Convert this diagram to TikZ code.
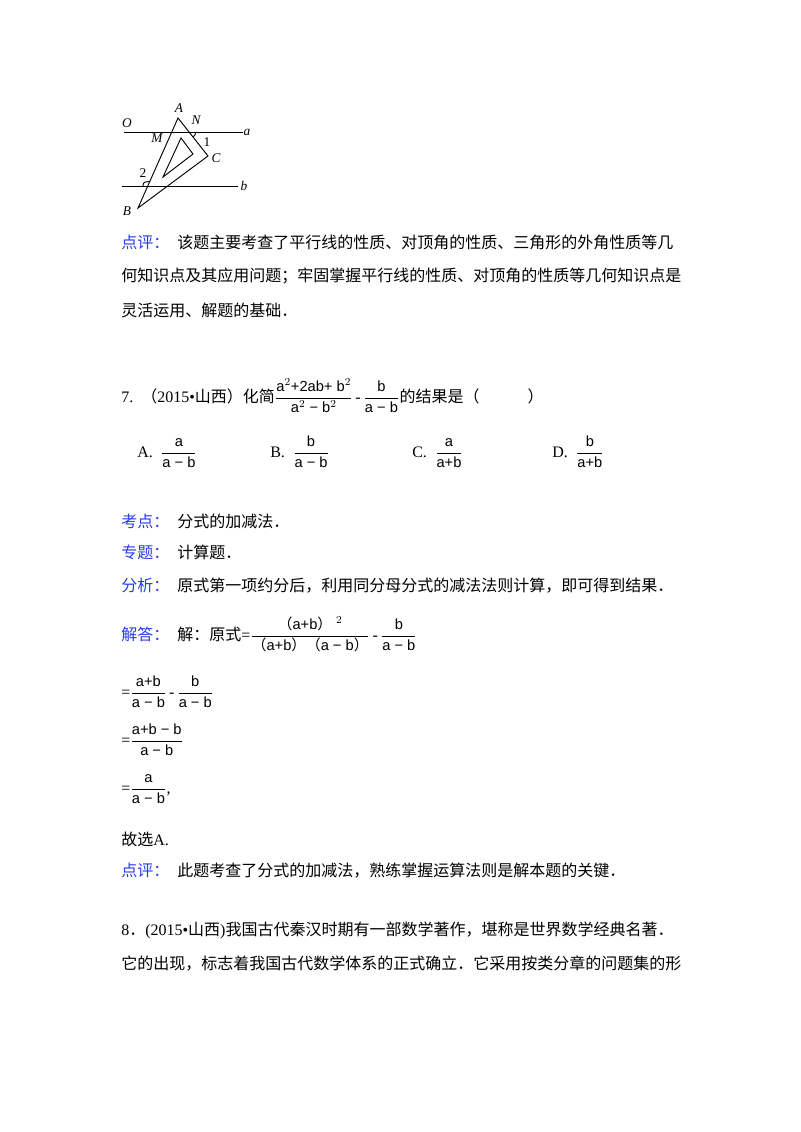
\documentclass[tikz,border=0pt]{standalone}
\usepackage{amsmath}
\usepackage{fontspec}
\setmainfont{Liberation Serif}
\setsansfont{Liberation Sans}
\newfontfamily\cjk{Noto Sans CJK SC}
\definecolor{lblue}{RGB}{40,60,230}
\newcommand{\fr}[2]{$\dfrac{\textsf{\fontsize{11}{13}\selectfont #1}}{\textsf{\fontsize{11}{13}\selectfont #2}}$}
\newcommand{\lp}{{\cjk （}}
\newcommand{\rp}{{\cjk ）}}
\begin{document}
\begin{tikzpicture}[x=0.75pt,y=-0.75pt,
  txt/.style={anchor=base west,inner sep=0pt,font=\fontsize{12}{14}\selectfont},
  lab/.style={inner sep=0pt,font=\itshape\fontsize{10}{12}\selectfont},
  geo/.style={line width=0.7pt}]
\useasboundingbox (0,0) rectangle (800,1132);
% figure
\coordinate (A) at (178,118); \coordinate (C) at (208,156); \coordinate (B) at (138,208);
\draw[geo] (124,132) -- (243,132); \draw[geo] (122,186) -- (238,186);
\draw[geo] (A) -- (B) -- (C) -- cycle;
\draw[geo] (181,138) -- (193,154) -- (163,177) -- cycle;
\draw[geo] (195.5,132) .. controls (195.5,134.5) .. (193,137);
\draw[geo] (143,186) .. controls (143.5,182) .. (150,181.5);
\node[lab] (lO) at (127,123) {O}; \node[lab] (la) at (247,132) {a};
\node[lab] (lb) at (244,186) {b}; \node[lab] (lA) at (179,108) {A};
\node[lab] (lN) at (196,120) {N}; \node[lab] (lM) at (157,138) {M};
\node[lab] (lC) at (216,158) {C}; \node[lab] (lB) at (127,211) {B};
\node[inner sep=0pt,font=\fontsize{10}{12}\selectfont] (l1) at (207,142) {1};
\node[inner sep=0pt,font=\fontsize{10}{12}\selectfont] (l2) at (143,173) {2};
% text
\node[txt,text=lblue] (t1) at (121,248) {\cjk 点评：};
\node[txt] (t2) at (177,248) {\cjk 该题主要考查了平行线的性质、对顶角的性质、三角形的外角性质等几};
\node[txt] (t3) at (121,281) {\cjk 何知识点及其应用问题；牢固掌握平行线的性质、对顶角的性质等几何知识点是};
\node[txt] (t4) at (121,316) {\cjk 灵活运用、解题的基础．};
\node[txt] (q7) at (121,402) {7.\ \ \lp 2015•{\cjk 山西}\rp{\cjk 化简}\fr{a$^2$+2ab+ b$^2$}{a$^2$ − b$^2$}\,-\,\fr{b}{a − b}{\cjk 的结果是}\lp\hspace{3em}\rp};
\node[txt] (oA) at (137,457) {A.\ \ \fr{a}{a − b}};
\node[txt] (oB) at (270,457) {B.\ \ \fr{b}{a − b}};
\node[txt] (oC) at (412,457) {C.\ \ \fr{a}{a+b}};
\node[txt] (oD) at (552,457) {D.\ \ \fr{b}{a+b}};
\node[txt,text=lblue] (k1) at (121,527) {\cjk 考点：};
\node[txt] (k2) at (177,527) {\cjk 分式的加减法．};
\node[txt,text=lblue] (z1) at (121,558) {\cjk 专题：};
\node[txt] (z2) at (177,558) {\cjk 计算题．};
\node[txt,text=lblue] (f1) at (121,591) {\cjk 分析：};
\node[txt] (f2) at (177,591) {\cjk 原式第一项约分后，利用同分母分式的减法法则计算，即可得到结果．};
\node[txt,text=lblue] (j1) at (121,640) {\cjk 解答：};
\node[txt] (j2) at (177,640) {{\cjk 解：原式}=\fr{\lp a+b\rp$^{\ 2}$}{\lp a+b\rp\lp a − b\rp}\,-\,\fr{b}{a − b}};
\node[txt] (s1) at (121,697) {=\fr{a+b}{a − b}\,-\,\fr{b}{a − b}};
\node[txt] (s2) at (121,745) {=\fr{a+b − b}{a − b}};
\node[txt] (s3) at (121,793) {=\fr{a}{a − b},};
\node[txt] (g) at (121,845) {{\cjk 故选}A.};
\node[txt,text=lblue] (p1) at (121,876) {\cjk 点评：};
\node[txt] (p2) at (177,876) {\cjk 此题考查了分式的加减法，熟练掌握运算法则是解本题的关键．};
\node[txt] (e1) at (121,935) {8{\cjk ．}(2015•{\cjk 山西}){\cjk 我国古代秦汉时期有一部数学著作，堪称是世界数学经典名著．}};
\node[txt] (e2) at (121,969) {\cjk 它的出现，标志着我国古代数学体系的正式确立．它采用按类分章的问题集的形};
\end{tikzpicture}
\end{document}
